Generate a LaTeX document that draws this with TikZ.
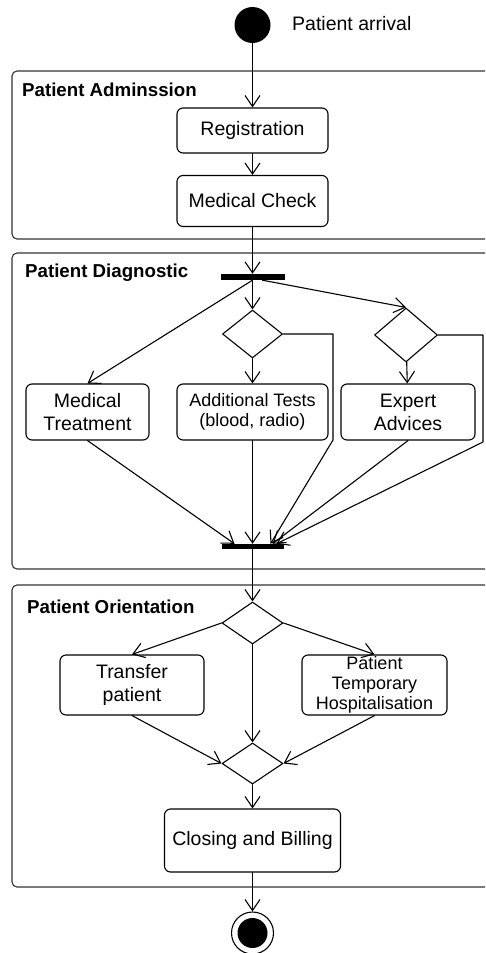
\documentclass[tikz,border=0pt]{standalone}
\usepackage{fontspec}
\setmainfont{Liberation Sans}
\usetikzlibrary{arrows.meta}
\usetikzlibrary{shapes.geometric}

\newcommand{\actfont}{\fontsize{19.5}{23}\selectfont}
\newcommand{\smallactfont}{\fontsize{18}{20}\selectfont}
\newcommand{\lanefont}{\fontsize{18.7}{22}\selectfont\bfseries}

\begin{document}
\begin{tikzpicture}[line cap=round,line join=round,x=1pt,y=-1pt,
  >={Straight Barb[length=11pt,width=15pt]},
  flow/.style={->,line width=1.1pt},
  frame/.style={draw=black!80,line width=1.1pt,rounded corners=5pt},
  lane/.style={anchor=west,inner sep=0pt,font=\lanefont},
  act/.style={draw,line width=1.1pt,rounded corners=6pt,align=center,inner sep=0pt,font=\actfont},
  choice/.style={diamond,draw,line width=1.1pt,inner sep=0pt},
  bar/.style={rectangle,fill=black,inner sep=0pt},
  initial/.style={circle,fill=black,inner sep=0pt,minimum size=36pt},
  final/.style={circle,draw,line width=1.1pt,inner sep=0pt,minimum size=42pt,
    path picture={\fill (path picture bounding box.center) circle (15pt);}}]
\useasboundingbox (0,0) rectangle (485,953);
\clip (0,0) rectangle (485,953);
% swimlanes
\draw[frame] (12,71) rectangle (497,239);
\node[lane] (admtitle) at (22,90) {Patient Adminssion};
\draw[frame] (12,253) rectangle (497,569);
\node[lane] (diagtitle) at (25,273) {Patient Diagnostic};
\draw[frame] (12,585) rectangle (497,887);
\node[lane] (orititle) at (27,607) {Patient Orientation};
% admission
\node[initial] (start) at (252.5,25) {};
\node[anchor=west,inner sep=0pt,font=\actfont] (arrival) at (292,24) {Patient arrival};
\node[act,minimum width=151,minimum height=45] (reg) at (252.5,130.5) {Registration};
\node[act,minimum width=151,minimum height=51] (check) at (252.5,201) {Medical Check};
% diagnostic
\node[bar,minimum width=64,minimum height=6] (fork) at (252.5,277) {};
\node[choice,minimum width=60,minimum height=48] (testq) at (252.5,334) {};
\node[choice,minimum width=63,minimum height=54] (adviceq) at (406,335) {};
\node[act,minimum width=123,minimum height=56] (treat) at (87.5,412) {Medical\\Treatment};
\node[act,minimum width=151,minimum height=56,font=\smallactfont] (tests) at (252.5,412) {Additional Tests\\(blood, radio)};
\node[act,minimum width=134,minimum height=56] (advice) at (408,412) {Expert\\Advices};
\node[bar,minimum width=62,minimum height=5] (join) at (252.5,546.5) {};
\coordinate (testskip) at (333,440);
\coordinate (adviceskip) at (483,442);
% orientation
\node[choice,minimum width=61,minimum height=42] (route) at (252.5,623) {};
\node[act,minimum width=144,minimum height=60] (transfer) at (132,685) {Transfer\\patient};
\node[act,minimum width=145,minimum height=60,font=\smallactfont] (hosp) at (374.5,685) {Patient\\Temporary\\Hospitalisation};
\node[choice,minimum width=61,minimum height=41] (merge) at (252.5,763.5) {};
\node[act,minimum width=176,minimum height=63] (closing) at (252.5,840.5) {Closing and Billing};
\node[final] (stop) at (252.5,933) {};
% flows
\draw[flow] (start) -- (reg);
\draw[flow] (reg) -- (check);
\draw[flow] (check) -- (fork);
\draw[flow] (fork) -- (testq);
\draw[flow] (fork.south) -- (treat.north);
\draw[flow] ([shift={(10,0)}]fork.south) -- (adviceq.north);
\draw[flow] (testq) -- (tests);
\draw[flow] (adviceq) -- (advice);
\draw[flow] (treat.south) -- ([shift={(-18,0)}]join.north);
\draw[flow] (tests) -- (join);
\draw[flow] (testq.east) -| (testskip) -- ([shift={(18,0)}]join.north);
\draw[flow] (advice.south) -- ([shift={(20,0)}]join.north);
\draw[flow] (adviceq.east) -| (adviceskip) -- ([shift={(24,0)}]join.north);
\draw[flow] (join) -- (route);
\draw[flow] (route.west) -- (transfer.north);
\draw[flow] (route.east) -- (hosp.north);
\draw[flow] (route) -- (merge);
\draw[flow] (transfer.south) -- (merge.west);
\draw[flow] (hosp.south) -- (merge.east);
\draw[flow] (merge) -- (closing);
\draw[flow] (closing) -- (stop);
\end{tikzpicture}
\end{document}
